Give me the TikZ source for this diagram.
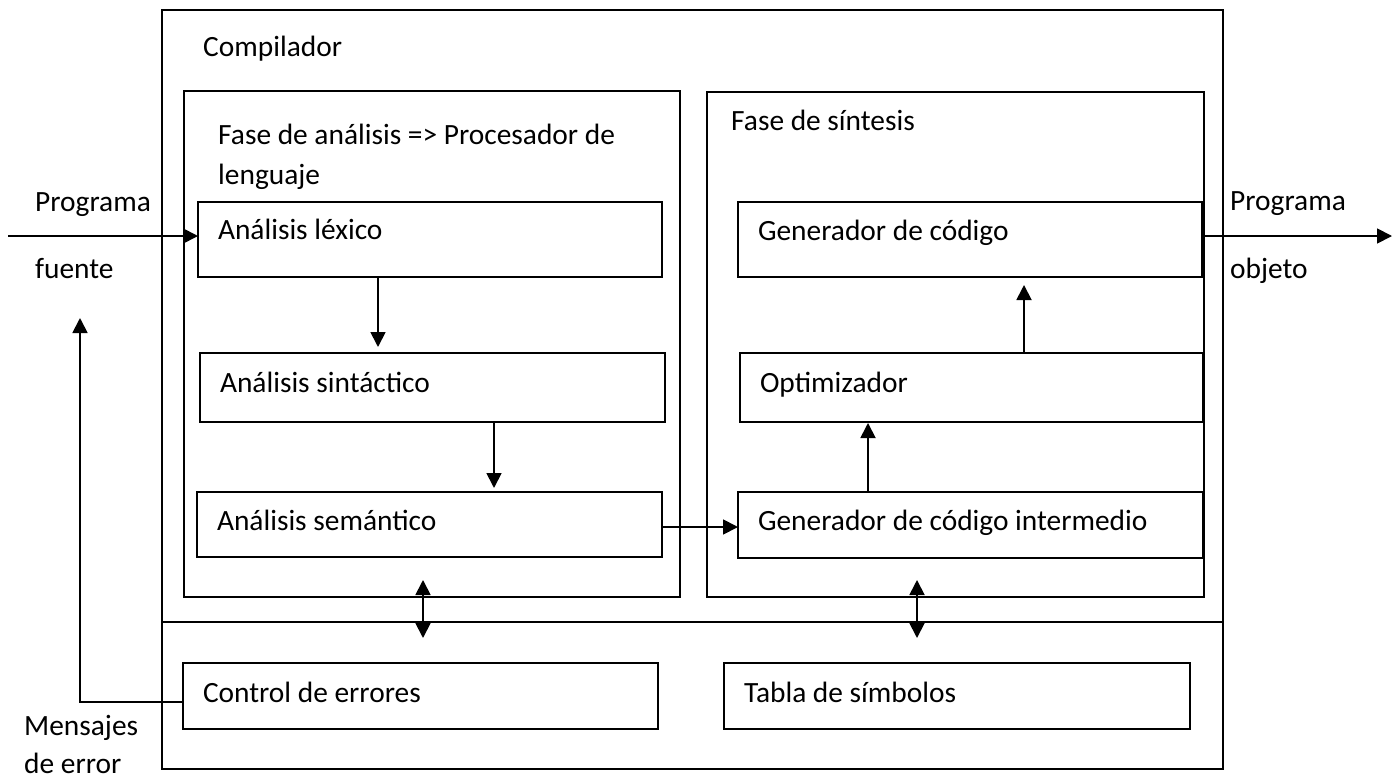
\documentclass[tikz,border=0pt]{standalone}
\usepackage{fontspec}
\setmainfont{Carlito}
\usetikzlibrary{arrows.meta}
\begin{document}
\begin{tikzpicture}[x=1pt,y=-1pt,
  every node/.style={font=\fontsize{29.4}{40}\selectfont},
  frame/.style={draw, line width=1.8pt, inner sep=0pt, outer sep=0pt, anchor=north west},
  stage/.style={draw, line width=1.8pt, anchor=north west, outer sep=0pt, inner ysep=0pt, inner xsep=20pt, align=flush left, text height=20pt, text depth=10pt},
  lbl/.style={anchor=base west, inner sep=0pt, align=flush left},
  arr/.style={line width=1.8pt, -{Triangle[length=15pt,width=15pt]}},
  darr/.style={line width=1.8pt, {Triangle[length=15pt,width=15pt]}-{Triangle[length=15pt,width=15pt]}},
]
\useasboundingbox (0,0) rectangle (1399,778);
% frames
\node[frame, minimum width=1061pt, minimum height=759pt] (comp) at (162,10) {};
\node[frame, minimum width=496pt, minimum height=506pt] (ana) at (184,91) {};
\node[frame, minimum width=497pt, minimum height=505pt] (syn) at (707,92) {};
% stages
\node[stage, text depth=21pt, minimum width=464pt, minimum height=75pt, text width=424pt] (lex) at (198,202) {Análisis léxico};
\node[stage, text depth=11pt, minimum width=465pt, minimum height=69pt, text width=425pt] (sint) at (200,353) {Análisis sintáctico};
\node[stage, text depth=9pt, minimum width=465pt, minimum height=65pt, text width=425pt] (sem) at (197,492) {Análisis semántico};
\node[stage, text depth=19pt, minimum width=464pt, minimum height=75pt, text width=424pt] (gen) at (738,202) {Generador de código};
\node[stage, text depth=11pt, minimum width=463pt, minimum height=69pt, text width=423pt] (opt) at (740,353) {Optimizador};
\node[stage, text depth=10pt, minimum width=465pt, minimum height=66pt, text width=425pt] (genint) at (738,492) {Generador de código intermedio};
\node[stage, text depth=8pt, minimum width=475pt, minimum height=66pt, text width=435pt] (ctrl) at (183,663) {Control de errores};
\node[stage, text depth=8pt, minimum width=466pt, minimum height=66pt, text width=426pt] (tabla) at (724,663) {Tabla de símbolos};
% labels (base anchor = baseline of the last line)
\node[lbl] (tcomp) at (203,57) {Compilador};
\node[lbl] (tana) at (218,185) {Fase de análisis => Procesador de\\lenguaje};
\node[lbl] (tsyn) at (731,131) {Fase de síntesis};
\node[lbl] (tin) at (35,278) {Programa\\[27pt]fuente};
\node[lbl] (tout) at (1230,278) {Programa\\[28pt]objeto};
\node[lbl] (terr) at (24,773) {Mensajes\\[-2pt]de error};
% divider
\coordinate (dvL) at (162,622);
\draw[line width=1.8pt] (dvL) -- (dvL -| comp.east);
% connectors
\coordinate (inS) at (8,236);
\draw[arr] (inS) -- (inS -| lex.west);
\coordinate (xa) at (378,0);
\draw[arr, shorten >=6pt] (xa |- lex.south) -- (xa |- sint.north);
\coordinate (xb) at (494,0);
\draw[arr, shorten >=4pt] (xb |- sint.south) -- (xb |- sem.north);
\coordinate (yc) at (0,527);
\draw[arr] (yc -| sem.east) -- (yc -| genint.west);
\coordinate (xd) at (868,0);
\draw[arr, shorten >=1pt] (xd |- genint.north) -- (xd |- opt.south);
\coordinate (xe) at (1024,0);
\draw[arr, shorten >=8pt] (xe |- opt.north) -- (xe |- gen.south);
\coordinate (outE) at (1392,236);
\draw[arr] (outE -| gen.east) -- (outE);
\coordinate (da1) at (423,580);
\coordinate (da2) at (423,638);
\draw[darr] (da1) -- (da2);
\coordinate (db1) at (917,580);
\coordinate (db2) at (917,638);
\draw[darr] (db1) -- (db2);
\coordinate (errT) at (80,318);
\draw[arr] ([yshift=-6pt]ctrl.west) -| (errT);
\end{tikzpicture}
\end{document}
